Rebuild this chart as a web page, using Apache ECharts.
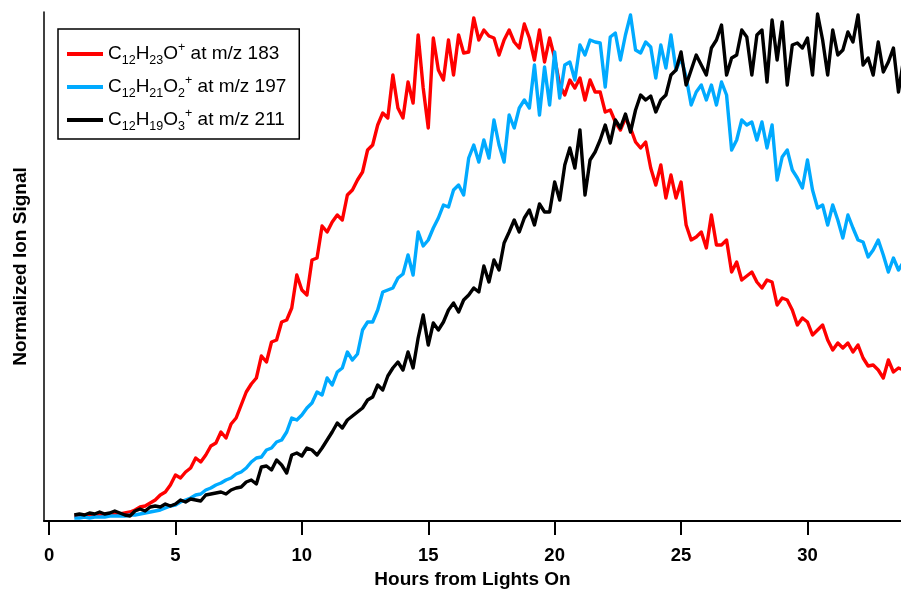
<!DOCTYPE html>
<html>
<head>
<meta charset="utf-8">
<script src="https://cdn.jsdelivr.net/npm/echarts@6/dist/echarts.min.js"></script>
<style>
html,body{margin:0;padding:0;background:#fff;}
#chart{width:901px;height:590px;}
</style>
</head>
<body>
<div id="chart"></div>
<script>
// Time grid (hours from lights on)
const HOUR_START = 1.0;
const HOUR_STEP = 0.2;

const seriesNames = [
  'C12H23O+ at m/z 183',
  'C12H21O2+ at m/z 197',
  'C12H19O3+ at m/z 211'
];

const xTickValues = [0, 5, 10, 15, 20, 25, 30];

// Normalized ion signal (arbitrary units), one value per time step
const signal183 = [
  5,5,6,5,6,6,7,6,7,7,8,9,11,14,15,18,21,26,29,36,
  46,43,49,53,63,59,66,75,78,89,83,97,103,116,129,137,143,165,159,179,
  181,199,201,213,246,231,226,261,263,295,289,299,306,301,326,331,341,349,371,376,
  396,408,403,446,413,403,439,418,486,433,393,483,451,441,481,446,486,468,469,503,
  481,491,485,483,466,481,491,479,473,497,483,461,491,459,483,463,436,426,441,433,
  443,421,441,429,429,409,411,399,391,403,393,379,373,379,353,336,356,323,346,323,
  339,296,281,284,289,273,306,276,276,281,249,259,241,245,249,239,233,241,239,216,
  223,221,211,196,203,199,186,191,196,181,171,178,173,178,169,176,163,155,156,151,
  143,161,149,153,151
];

const signal197 = [
  3,3,4,3,4,4,4,5,5,5,5,6,6,7,8,9,10,11,13,15,
  16,19,21,23,26,27,31,33,36,38,41,43,47,49,53,59,63,64,71,73,
  79,81,89,103,101,106,113,118,129,126,143,136,149,153,169,161,167,191,199,199,
  211,229,231,233,243,247,266,246,289,275,281,293,303,316,314,331,336,326,363,376,
  359,381,363,401,376,359,406,393,413,421,413,456,406,454,416,469,423,456,459,441,
  476,466,481,479,478,434,484,488,461,486,506,471,468,479,474,443,476,453,486,451,
  463,444,416,429,436,421,436,416,439,426,371,381,401,396,399,381,399,373,396,341,
  364,371,351,343,333,361,331,313,316,296,316,301,283,306,293,281,279,264,271,281,
  266,249,263,251,259
];

const signal211 = [
  6,7,6,8,7,9,7,8,10,8,6,5,10,12,10,14,15,14,17,15,
  17,21,19,22,21,20,26,27,28,29,27,31,33,34,39,41,37,54,55,51,
  61,56,48,66,68,65,73,71,66,73,81,89,98,93,101,105,109,113,121,124,
  136,131,145,153,159,151,169,153,183,206,176,198,191,199,211,218,209,221,226,233,
  229,255,239,261,251,278,289,301,289,303,311,296,317,309,309,339,321,356,373,353,
  391,326,361,369,381,396,378,401,393,407,389,411,426,421,425,409,421,426,446,451,
  469,436,451,466,456,446,473,481,496,446,463,466,491,484,446,486,491,439,501,461,
  499,436,476,478,473,483,446,507,481,446,491,466,471,489,479,506,456,463,446,479,
  449,459,473,429,461
];

const colors = ['#ff0000', '#00aaff', '#000000'];
const seriesValues = [signal183, signal197, signal211];

function pairs(values) {
  return values.map((v, i) => [HOUR_START + i * HOUR_STEP, v]);
}

const richNames = {
  'C12H23O+ at m/z 183': '{n|C}{b|12}{n|H}{b|23}{n|O}{p|+}{n| at m/z 183}',
  'C12H21O2+ at m/z 197': '{n|C}{b|12}{n|H}{b|21}{n|O}{b|2}{p|+}{n| at m/z 197}',
  'C12H19O3+ at m/z 211': '{n|C}{b|12}{n|H}{b|19}{n|O}{b|3}{p|+}{n| at m/z 211}'
};

const FONT = '"Liberation Sans", Arial, Helvetica, sans-serif';

const chart = echarts.init(document.getElementById('chart'), null, {renderer: 'canvas'});
chart.setOption({
  animation: false,
  backgroundColor: '#fff',
  grid: {left: 44, right: 0, top: 12, bottom: 69, containLabel: false, outerBoundsMode: 'none'},
  legend: {
    show: true,
    orient: 'vertical',
    left: 58,
    top: 29,
    data: seriesNames,
    icon: 'rect',
    itemWidth: 36,
    itemHeight: 4,
    itemGap: 7,
    itemTextGap: 8,
    padding: [12, 13, 6, 9],
    borderColor: '#000',
    borderWidth: 1.5,
    backgroundColor: '#fff',
    formatter: name => richNames[name],
    textStyle: {
      color: '#000',
      fontFamily: FONT,
      rich: {
        n: {fontSize: 19, lineHeight: 26, color: '#000', fontFamily: FONT},
        b: {fontSize: 12.5, lineHeight: 14, verticalAlign: 'bottom', color: '#000', fontFamily: FONT},
        p: {fontSize: 12.5, lineHeight: 14, verticalAlign: 'top', color: '#000', fontFamily: FONT}
      }
    }
  },
  xAxis: {
    type: 'value',
    min: -0.2,
    max: 33.7,
    name: 'Hours from Lights On',
    nameLocation: 'middle',
    nameGap: 48,
    nameTextStyle: {fontFamily: FONT, fontWeight: 'bold', fontSize: 19, color: '#000'},
    axisLine: {show: true, onZero: false, lineStyle: {color: '#000', width: 2}},
    axisTick: {show: true, length: 14, lineStyle: {color: '#000', width: 2}, customValues: xTickValues},
    axisLabel: {show: true, margin: 25, fontFamily: FONT, fontWeight: 'bold', fontSize: 18.5, color: '#000', customValues: xTickValues},
    splitLine: {show: false}
  },
  yAxis: {
    type: 'value',
    min: 0,
    max: 509,
    name: 'Normalized Ion Signal',
    nameLocation: 'middle',
    nameRotate: 90,
    nameGap: 14,
    nameTextStyle: {fontFamily: FONT, fontWeight: 'bold', fontSize: 19, color: '#000'},
    axisLine: {show: true, onZero: false, lineStyle: {color: '#000', width: 1.5}},
    axisTick: {show: false},
    axisLabel: {show: false},
    splitLine: {show: false}
  },
  series: seriesNames.map((name, k) => ({
    name: name,
    type: 'line',
    data: pairs(seriesValues[k]),
    symbol: 'none',
    showSymbol: false,
    color: colors[k],
    lineStyle: {color: colors[k], width: 3.4, join: 'round'},
    z: 2 + k
  }))
});
</script>
</body>
</html>
